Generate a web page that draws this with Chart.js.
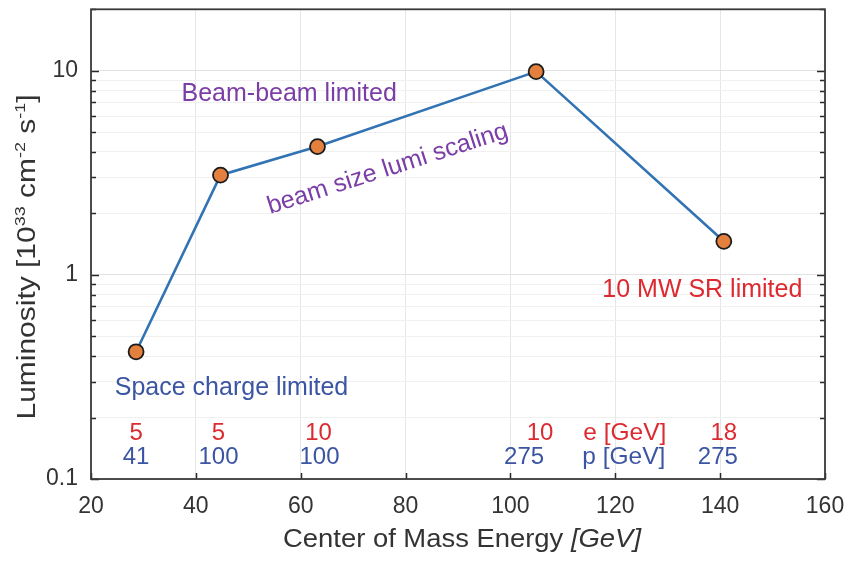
<!DOCTYPE html>
<html>
<head>
<meta charset="utf-8">
<script src="https://cdn.jsdelivr.net/npm/chart.js@4.4.1/dist/chart.umd.min.js"></script>
<style>
  html, body { margin: 0; padding: 0; background: #fff; }
  #wrap { width: 848px; height: 561px; }
</style>
</head>
<body>
<div id="wrap"><canvas id="chart"></canvas></div>
<script>
// centre-of-mass energy [GeV] and peak luminosity [1e33 cm^-2 s^-1]
const energies = [28.6, 44.7, 63.2, 104.9, 140.7];
const luminosity = [0.42, 3.08, 4.25, 9.9, 1.46];
// beam energies for each configuration
const electronGeV = ['5', '5', '10', '10', '18'];
const protonGeV = ['41', '100', '100', '275', '275'];
const xTicks = [20, 40, 60, 80, 100, 120, 140, 160];
const yMajorTicks = [0.1, 1, 10];
const yMinorTicks = [0.2, 0.3, 0.4, 0.5, 0.6, 0.7, 0.8, 0.9, 2, 3, 4, 5, 6, 7, 8, 9, 20];

const FONT = '"Liberation Sans", Arial, Helvetica, sans-serif';
const RED = '#dc2a30';
const BLUE = '#3b55a3';
const PURPLE = '#7a3ea6';
const TEXT = '#333';

// text labels placed in data coordinates
const notes = [
  { text: 'Beam-beam limited', x: 57.8, y: 7.7, color: PURPLE, angle: 0 },
  { text: 'beam size lumi scaling', x: 76.6, y: 3.3, color: PURPLE, angle: -17.8 },
  { text: '10 MW SR limited', x: 136.6, y: 0.84, color: RED, angle: 0 },
  { text: 'Space charge limited', x: 46.8, y: 0.28, color: BLUE, angle: 0 }
];
// pixel nudges for the beam energy rows
const eShift = [0, -2, 1, 4, 0];
const pShift = [0, -2, 2, -12, -6];

const allYTicks = yMajorTicks.concat(yMinorTicks).sort((a, b) => a - b);

// draw text pieces (optionally superscript) stretched to a given width
function drawRuns(ctx, runs, size, width) {
  let total = 0;
  runs.forEach(r => {
    ctx.font = (r.sup ? Math.round(size * 0.6) : size) + 'px ' + FONT;
    if (r.italic) ctx.font = 'italic ' + ctx.font;
    r.w = ctx.measureText(r.t).width;
    total += r.w;
  });
  const sx = width ? width / total : 1;
  ctx.save();
  ctx.scale(sx, 1);
  let x = -total / 2;
  runs.forEach(r => {
    ctx.font = (r.sup ? Math.round(size * 0.6) : size) + 'px ' + FONT;
    if (r.italic) ctx.font = 'italic ' + ctx.font;
    ctx.fillText(r.t, x, r.sup ? -size * 0.42 : 0);
    x += r.w;
  });
  ctx.restore();
}

const frame = {
  id: 'frame',
  afterDatasetsDraw(chart) {
    const { ctx, chartArea: a, scales } = chart;
    const xs = scales.x, ys = scales.y;
    ctx.save();

    // inside tick marks
    ctx.strokeStyle = '#2a2a2a';
    ctx.lineWidth = 1.5;
    ctx.beginPath();
    allYTicks.forEach(v => {
      const y = Math.round(ys.getPixelForValue(v)) + 0.5;
      const len = yMajorTicks.includes(v) ? 8 : 5;
      ctx.moveTo(a.left, y); ctx.lineTo(a.left + len, y);
      ctx.moveTo(a.right, y); ctx.lineTo(a.right - len, y);
    });
    xTicks.forEach(v => {
      const x = Math.round(xs.getPixelForValue(v)) + 0.5;
      ctx.moveTo(x, a.bottom); ctx.lineTo(x, a.bottom - 6);
    });
    ctx.stroke();

    // box
    ctx.strokeStyle = '#3a3a3a';
    ctx.lineWidth = 1.8;
    ctx.strokeRect(a.left, a.top, a.right - a.left, a.bottom - a.top);

    // notes
    ctx.font = '25px ' + FONT;
    ctx.textAlign = 'center';
    ctx.textBaseline = 'middle';
    notes.forEach(n => {
      ctx.save();
      ctx.translate(xs.getPixelForValue(n.x), ys.getPixelForValue(n.y));
      ctx.rotate(n.angle * Math.PI / 180);
      ctx.fillStyle = n.color;
      ctx.fillText(n.text, 0, 0);
      ctx.restore();
    });

    // beam energy rows
    ctx.font = '24px ' + FONT;
    const yE = ys.getPixelForValue(0.1675);
    const yP = ys.getPixelForValue(0.128);
    energies.forEach((e, i) => {
      const x = xs.getPixelForValue(e);
      ctx.fillStyle = RED;
      ctx.fillText(electronGeV[i], x + eShift[i], yE);
      ctx.fillStyle = BLUE;
      ctx.fillText(protonGeV[i], x + pShift[i], yP);
    });
    ctx.font = '24.5px ' + FONT;
    ctx.textAlign = 'left';
    ctx.fillStyle = RED;
    ctx.fillText('e [GeV]', xs.getPixelForValue(113.9), yE);
    ctx.fillStyle = BLUE;
    ctx.fillText('p [GeV]', xs.getPixelForValue(113.7), yP);

    // axis titles
    ctx.fillStyle = TEXT;
    ctx.textAlign = 'left';
    ctx.textBaseline = 'alphabetic';
    ctx.save();
    ctx.translate(462, 547);
    drawRuns(ctx, [{ t: 'Center of Mass Energy ' }, { t: '[GeV]', italic: true }], 25, 358);
    ctx.restore();

    ctx.save();
    ctx.translate(35, 257);
    ctx.rotate(-Math.PI / 2);
    drawRuns(ctx, [
      { t: 'Luminosity [10' }, { t: '33', sup: true },
      { t: ' cm' }, { t: '-2', sup: true },
      { t: ' s' }, { t: '-1', sup: true }, { t: ']' }
    ], 25, 325);
    ctx.restore();
    ctx.restore();
  }
};

new Chart(document.getElementById('chart'), {
  type: 'line',
  data: {
    datasets: [{
      data: energies.map((e, i) => ({ x: e, y: luminosity[i] })),
      borderColor: '#3274b3',
      borderWidth: 2.6,
      pointBackgroundColor: '#e3803d',
      pointBorderColor: '#1c1c1c',
      pointBorderWidth: 1.8,
      pointRadius: 7.5,
      tension: 0
    }]
  },
  options: {
    responsive: true,
    maintainAspectRatio: false,
    animation: false,
    layout: { padding: { top: 7, right: 23, left: 0, bottom: 0 } },
    plugins: { legend: { display: false }, tooltip: { enabled: false } },
    scales: {
      x: {
        type: 'linear',
        min: 20,
        max: 160,
        afterBuildTicks: s => { s.ticks = xTicks.map(v => ({ value: v })); },
        afterFit: s => { s.height = 82; s.paddingLeft = 0; s.paddingRight = 0; },
        ticks: { color: TEXT, font: { family: FONT, size: 23 }, padding: 14, maxRotation: 0 },
        grid: { color: '#e6e6e6', lineWidth: 1, drawTicks: false },
        border: { display: false }
      },
      y: {
        type: 'logarithmic',
        min: 0.1,
        max: 20,
        afterBuildTicks: s => { s.ticks = allYTicks.map(v => ({ value: v })); },
        afterFit: s => { s.width = 91; s.paddingTop = 0; s.paddingBottom = 0; },
        ticks: {
          color: TEXT,
          font: { family: FONT, size: 23 },
          padding: 13,
          autoSkip: false,
          callback: v => yMajorTicks.includes(v) ? String(v) : ''
        },
        grid: {
          color: c => yMajorTicks.includes(c.tick && c.tick.value) ? '#e2e2e2' : '#f0f0f0',
          lineWidth: 1,
          drawTicks: false
        },
        border: { display: false }
      }
    }
  },
  plugins: [frame]
});
</script>
</body>
</html>
